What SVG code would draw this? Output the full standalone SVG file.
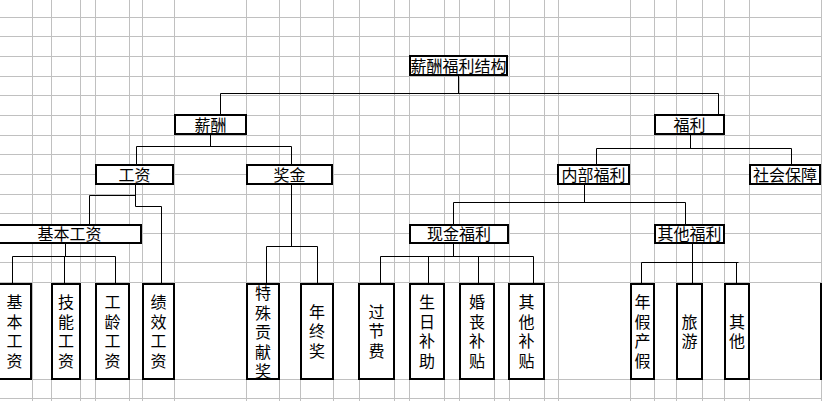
<svg xmlns="http://www.w3.org/2000/svg" width="822" height="401" viewBox="0 0 822 401">
<style>
.grid line{stroke:#c0c0c0;stroke-width:1}
.box{fill:#fff;stroke:#000;stroke-width:2}
#connectors path{stroke:#000;stroke-width:1;fill:none}
text{font-family:"Noto Sans CJK SC","Noto Sans CJK JP",sans-serif;font-size:16px;text-anchor:middle;fill:#000}
text.v{writing-mode:vertical-rl;text-orientation:upright;letter-spacing:3.5px}
</style>
<rect x="0" y="0" width="822" height="401" fill="#fff"/>
<g class="grid" id="grid">
<line x1="32.5" y1="0" x2="32.5" y2="401"/><line x1="51.5" y1="0" x2="51.5" y2="401"/><line x1="80.5" y1="0" x2="80.5" y2="401"/><line x1="95.5" y1="0" x2="95.5" y2="401"/><line x1="129.5" y1="0" x2="129.5" y2="401"/><line x1="142.5" y1="0" x2="142.5" y2="401"/><line x1="174.5" y1="0" x2="174.5" y2="401"/><line x1="246.5" y1="0" x2="246.5" y2="401"/><line x1="279.5" y1="0" x2="279.5" y2="401"/><line x1="300.5" y1="0" x2="300.5" y2="401"/><line x1="333.5" y1="0" x2="333.5" y2="401"/><line x1="359.5" y1="0" x2="359.5" y2="401"/><line x1="394.5" y1="0" x2="394.5" y2="401"/><line x1="409.5" y1="0" x2="409.5" y2="401"/><line x1="444.5" y1="0" x2="444.5" y2="401"/><line x1="459.5" y1="0" x2="459.5" y2="401"/><line x1="494.5" y1="0" x2="494.5" y2="401"/><line x1="509.5" y1="0" x2="509.5" y2="401"/><line x1="544.5" y1="0" x2="544.5" y2="401"/><line x1="558.5" y1="0" x2="558.5" y2="401"/><line x1="630.5" y1="0" x2="630.5" y2="401"/><line x1="654.5" y1="0" x2="654.5" y2="401"/><line x1="676.5" y1="0" x2="676.5" y2="401"/><line x1="702.5" y1="0" x2="702.5" y2="401"/><line x1="724.5" y1="0" x2="724.5" y2="401"/><line x1="749.5" y1="0" x2="749.5" y2="401"/><line x1="821.5" y1="0" x2="821.5" y2="401"/>
<line x1="0" y1="17.5" x2="822" y2="17.5"/><line x1="0" y1="36.5" x2="822" y2="36.5"/><line x1="0" y1="56.5" x2="822" y2="56.5"/><line x1="0" y1="76.5" x2="822" y2="76.5"/><line x1="0" y1="95.5" x2="822" y2="95.5"/><line x1="0" y1="115.5" x2="822" y2="115.5"/><line x1="0" y1="135.5" x2="822" y2="135.5"/><line x1="0" y1="154.5" x2="822" y2="154.5"/><line x1="0" y1="174.5" x2="822" y2="174.5"/><line x1="0" y1="194.5" x2="822" y2="194.5"/><line x1="0" y1="213.5" x2="822" y2="213.5"/><line x1="0" y1="233.5" x2="822" y2="233.5"/><line x1="0" y1="262.5" x2="822" y2="262.5"/><line x1="0" y1="282.5" x2="822" y2="282.5"/><line x1="0" y1="379.5" x2="822" y2="379.5"/><line x1="0" y1="398.5" x2="822" y2="398.5"/>
</g>
<g id="connectors">
<path d="M458.5 76V93.5M220.5 114V93.5H718.5V114"/>
<path d="M210.5 135V146.5M136.5 164V146.5H291.5V164"/>
<path d="M135.5 185V206.5H161.5V283M135.5 195.5H89.5V224"/>
<path d="M65.5 244V256.5M12.5 283V256.5H115.5V283M64.5 256.5V283"/>
<path d="M291.5 185V246.5M266.5 283V246.5H317.5V283"/>
<path d="M690.5 135V148.5M596.5 164V148.5H791.5V164"/>
<path d="M584.5 185V202.5M453.5 224V202.5H685.5V224"/>
<path d="M453.5 244V256.5M380.5 283V256.5H533.5V283M428.5 256.5V283M478.5 256.5V283"/>
<path d="M692.5 244V283M641.5 283V262.5H738.5M736.5 262.5V283"/>
<path d="M821 283V380" style="stroke-width:2"/>
</g>
<g id="n-root"><rect class="box" x="410" y="56" width="97" height="19"/><text x="458.5" y="71.5">薪酬福利结构</text></g>
<g id="n-xinchou"><rect class="box" x="175" y="115" width="71" height="19"/><text x="210.5" y="130.5">薪酬</text></g>
<g id="n-fuli"><rect class="box" x="655" y="115" width="69" height="19"/><text x="689.5" y="130.5">福利</text></g>
<g id="n-gongzi"><rect class="box" x="96" y="165" width="77" height="19"/><text x="134.5" y="180.5">工资</text></g>
<g id="n-jiangjin"><rect class="box" x="247" y="165" width="85" height="19"/><text x="289.5" y="180.5">奖金</text></g>
<g id="n-neibu"><rect class="box" x="558" y="165" width="71" height="19"/><text x="593.5" y="180.5">内部福利</text></g>
<g id="n-shehui"><rect class="box" x="750" y="165" width="70" height="19"/><text x="785" y="180.5">社会保障</text></g>
<g id="n-jiben"><rect class="box" x="-2" y="225" width="143" height="18"/><text x="69.5" y="240">基本工资</text></g>
<g id="n-xianjin"><rect class="box" x="410" y="225" width="98" height="18"/><text x="459" y="240">现金福利</text></g>
<g id="n-qita"><rect class="box" x="655" y="225" width="69" height="18"/><text x="689.5" y="240">其他福利</text></g>
<g id="v1"><rect class="box" x="-2" y="284" width="33" height="95"/><text class="v" x="14.5" y="333">基本工资</text></g>
<g id="v2"><rect class="box" x="52" y="284" width="28" height="95"/><text class="v" x="66" y="333">技能工资</text></g>
<g id="v3"><rect class="box" x="96" y="284" width="33" height="95"/><text class="v" x="112.5" y="333">工龄工资</text></g>
<g id="v4"><rect class="box" x="143" y="284" width="31" height="95"/><text class="v" x="158.5" y="333">绩效工资</text></g>
<g id="v5"><rect class="box" x="247" y="284" width="32" height="95"/><text class="v" x="263" y="334">特殊贡献奖</text></g>
<g id="v6"><rect class="box" x="301" y="284" width="32" height="95"/><text class="v" x="317" y="333">年终奖</text></g>
<g id="v7"><rect class="box" x="359" y="284" width="35" height="95"/><text class="v" x="376.5" y="333">过节费</text></g>
<g id="v8"><rect class="box" x="410" y="284" width="34" height="95"/><text class="v" x="427" y="333">生日补助</text></g>
<g id="v9"><rect class="box" x="460" y="284" width="34" height="95"/><text class="v" x="477" y="333">婚丧补贴</text></g>
<g id="v10"><rect class="box" x="509" y="284" width="35" height="95"/><text class="v" x="526.5" y="333">其他补贴</text></g>
<g id="v11"><rect class="box" x="631" y="284" width="23" height="95"/><text class="v" x="642.5" y="333">年假产假</text></g>
<g id="v12"><rect class="box" x="677" y="284" width="25" height="95"/><text class="v" x="689.5" y="333">旅游</text></g>
<g id="v13"><rect class="box" x="725" y="284" width="24" height="95"/><text class="v" x="737" y="333">其他</text></g>
</svg>
